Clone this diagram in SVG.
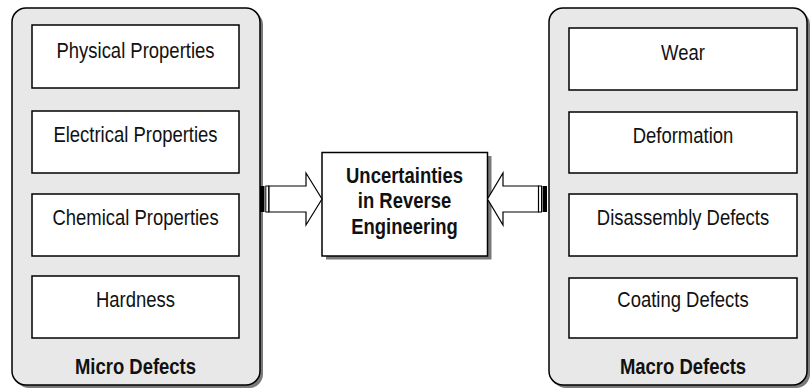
<svg xmlns="http://www.w3.org/2000/svg" width="812" height="392" viewBox="0 0 812 392">
<style>
.panel{fill:#e8e8e8;stroke:#000;stroke-width:1.5}
.pshadow{fill:#7a7a7a}
.box{fill:#fff;stroke:#000;stroke-width:1.5}
.t{font-family:"Liberation Sans",Arial,sans-serif;font-size:22px;fill:#111;text-anchor:middle}
.b{font-weight:bold}
.arrow{fill:#fff;stroke:#000;stroke-width:1.2;stroke-linejoin:miter}
.bar{fill:#000}
.tbar{fill:#fff;stroke:#000;stroke-width:1}
</style>
<rect width="812" height="392" fill="#fff"/>
<g id="micro-defects">
<rect class="pshadow" x="15" y="11" width="248" height="377" rx="14"/>
<rect class="panel" x="12" y="8" width="248" height="377" rx="14"/>
<text class="t b" transform="translate(135.5 374) scale(0.84 1)">Micro Defects</text>
</g>
<g id="physical-properties"><rect class="box" x="32" y="25" width="207" height="63"/><text class="t" transform="translate(135.5 57.5) scale(0.84 1)">Physical Properties</text></g>
<g id="electrical-properties"><rect class="box" x="32" y="111" width="207" height="62"/><text class="t" transform="translate(135.5 141.5) scale(0.84 1)">Electrical Properties</text></g>
<g id="chemical-properties"><rect class="box" x="32" y="194" width="207" height="62"/><text class="t" transform="translate(135.5 224.5) scale(0.84 1)">Chemical Properties</text></g>
<g id="hardness"><rect class="box" x="32" y="276" width="207" height="62"/><text class="t" transform="translate(135.5 306.5) scale(0.84 1)">Hardness</text></g>
<g id="macro-defects">
<rect class="pshadow" x="552" y="11" width="258" height="377" rx="14"/>
<rect class="panel" x="549" y="8" width="258" height="377" rx="14"/>
<text class="t b" transform="translate(683 374) scale(0.84 1)">Macro Defects</text>
</g>
<g id="wear"><rect class="box" x="569" y="28" width="228" height="62"/><text class="t" transform="translate(683 60) scale(0.84 1)">Wear</text></g>
<g id="deformation"><rect class="box" x="569" y="112" width="228" height="61"/><text class="t" transform="translate(683 142.5) scale(0.84 1)">Deformation</text></g>
<g id="disassembly-defects"><rect class="box" x="569" y="194" width="228" height="62"/><text class="t" transform="translate(683 225) scale(0.84 1)">Disassembly Defects</text></g>
<g id="coating-defects"><rect class="box" x="569" y="278" width="228" height="60"/><text class="t" transform="translate(683 307) scale(0.84 1)">Coating Defects</text></g>
<g id="uncertainties">
<rect x="326" y="156" width="165.5" height="103.5" fill="#7a7a7a"/>
<rect class="box" x="322" y="152.5" width="165.5" height="103.5"/>
<text class="t b" transform="translate(404.5 182.7) scale(0.84 1)">Uncertainties</text>
<text class="t b" transform="translate(404.5 208.3) scale(0.84 1)">in Reverse</text>
<text class="t b" transform="translate(404.5 234) scale(0.84 1)">Engineering</text>
</g>
<g id="connectors">
<rect class="bar" x="260" y="186" width="4.5" height="26"/>
<rect class="tbar" x="265.8" y="186" width="3" height="26"/>
<polygon class="arrow" points="269,186 306,186 306,173 322,199 306,225 306,212 269,212"/>
<rect class="bar" x="542.5" y="186" width="4.5" height="26"/>
<rect class="tbar" x="538.5" y="186" width="3" height="26"/>
<polygon class="arrow" points="538.5,186 503,186 503,173 487.5,199 503,225 503,212 538.5,212"/>
</g>
</svg>
